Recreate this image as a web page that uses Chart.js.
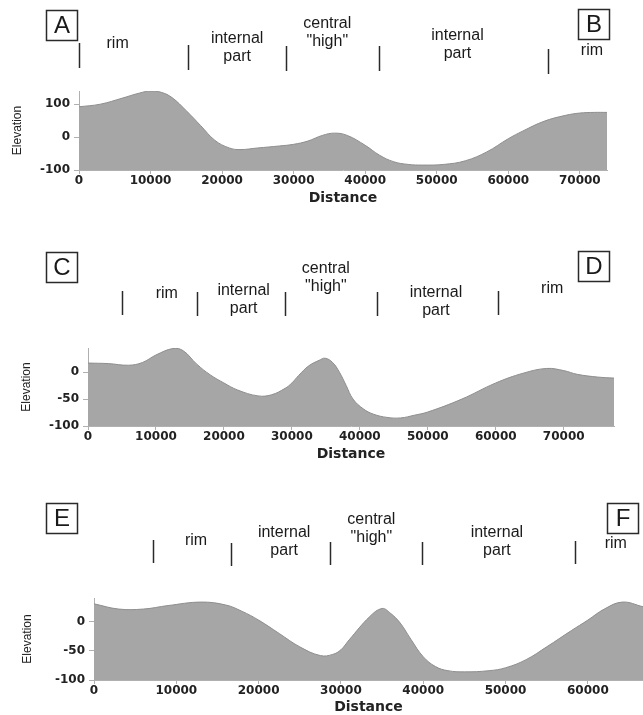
<!DOCTYPE html>
<html>
<head>
<meta charset="utf-8">
<script src="https://cdn.jsdelivr.net/npm/chart.js@4.4.1/dist/chart.umd.min.js"></script>
<style>
  html, body { margin: 0; padding: 0; background: #fff; overflow: hidden; }
  #wrap { position: relative; width: 643px; height: 715px; }
  canvas { position: absolute; left: 0; top: 0; }
</style>
</head>
<body>
<div id="wrap">
  <canvas id="chartA" width="643" height="715"></canvas>
  <canvas id="chartC" width="643" height="715"></canvas>
  <canvas id="chartE" width="643" height="715"></canvas>
</div>
<script>
// profile A-B
const distA = [0, 3000, 6000, 8500, 10000, 11500, 13000, 15000, 17000, 19000, 21000, 22500, 25000, 28000, 30000, 32000, 34000, 35700, 37500, 40000, 42000, 44000, 46000, 48000, 51000, 54000, 57000, 60000, 62000, 65000, 68000, 70000, 72000, 73800];
const elevA = [92, 100, 118, 134, 140, 136, 120, 80, 35, -10, -33, -38, -33, -27, -22, -12, 5, 12, 5, -25, -55, -75, -83, -85, -83, -72, -45, -5, 18, 48, 66, 73, 75, 75];

// profile C-D
const distC = [0, 3000, 6000, 8000, 10000, 12500, 14000, 16000, 18000, 20000, 22000, 25000, 27000, 29000, 30000, 31000, 32500, 34000, 34900, 36000, 37000, 38000, 39000, 40500, 42000, 44000, 46000, 48000, 50000, 55000, 60000, 64000, 67500, 70000, 72000, 75000, 77400];
const elevC = [17, 16, 13, 18, 32, 44, 40, 15, -5, -20, -33, -44, -42, -30, -20, -6, 12, 22, 26, 18, 0, -25, -50, -68, -78, -84, -85, -80, -74, -50, -20, -2, 7, 3, -4, -9, -11];

// profile E-F
const distE = [0, 3000, 6000, 9000, 13000, 16000, 18000, 20000, 22500, 25000, 27500, 29000, 30000, 31000, 33500, 35000, 36000, 37200, 38500, 40000, 41500, 43000, 45000, 48000, 50000, 52500, 55000, 58000, 60000, 62000, 64200, 66700];
const elevE = [31, 22, 22, 28, 34, 29, 18, 3, -20, -43, -58, -56, -48, -31, 9, 23, 15, -2, -30, -60, -77, -84, -86, -84, -79, -65, -43, -15, 3, 22, 34, 26];

// tick labels
const xTicksA = [0, 10000, 20000, 30000, 40000, 50000, 60000, 70000];
const xTicksC = [0, 10000, 20000, 30000, 40000, 50000, 60000, 70000];
const xTicksE = [0, 10000, 20000, 30000, 40000, 50000, 60000];
const yTicksA = [-100, 0, 100];
const yTicksC = [-100, -50, 0];
const yTicksE = [-100, -50, 0];

// zone boundaries and zone names (distance)
const zoneNames = ['rim', 'internal\npart', 'central\n"high"', 'internal\npart', 'rim'];
const zoneMarksA = [0, 15200, 29000, 41900, 65500];
const zoneMarksC = [5000, 16000, 29000, 42500, 60300];
const zoneMarksE = [7200, 16600, 28700, 39900, 58400];
const zoneAtA = [5400, 22100, 34700, 52900, 71700];
const zoneAtC = [11600, 22900, 35000, 51200, 68300];
const zoneAtE = [12400, 23100, 33700, 48950, 63400];

// page layout of each panel
const layoutA = {
  area: { left: 79, right: 607, top: 91, bottom: 170 }, yMin: -100, yMax: 140, xMax: 73800,
  yTitleLeft: 10, xTitleBottom: 205.5,
  markTop: [43, 45, 46, 46, 49], markLen: 25,
  labelY: [48, 43, 28, 40, 55],
  boxes: [{ text: 'A', x: 46, y: 10 }, { text: 'B', x: 578, y: 9 }]
};
const layoutC = {
  area: { left: 88, right: 614, top: 348, bottom: 426 }, yMin: -100, yMax: 45, xMax: 77400,
  yTitleLeft: 19, xTitleBottom: 461.5,
  markTop: [291, 292, 292, 292, 291], markLen: 24,
  labelY: [298, 295, 273, 297, 293],
  boxes: [{ text: 'C', x: 46, y: 252 }, { text: 'D', x: 578, y: 251 }]
};
const layoutE = {
  area: { left: 94, right: 643, top: 598, bottom: 680 }, yMin: -100, yMax: 41, xMax: 66700,
  yTitleLeft: 20, xTitleBottom: 714.5,
  markTop: [540, 543, 542, 542, 541], markLen: 23,
  labelY: [545, 537, 524, 537, 548],
  boxes: [{ text: 'E', x: 46, y: 503 }, { text: 'F', x: 607, y: 503 }]
};

Chart.defaults.font.family = '"DejaVu Sans", sans-serif';
Chart.defaults.color = '#222';

const zonePlugin = {
  id: 'zones',
  afterDraw(chart, args, opts) {
    const ctx = chart.ctx;
    const x = chart.scales.x;
    const L = opts.layout;
    ctx.save();
    ctx.strokeStyle = '#2a2a2a';
    ctx.fillStyle = '#1a1a1a';
    ctx.lineWidth = 1.5;
    opts.marks.forEach((d, i) => {
      const px = Math.round(x.getPixelForValue(d)) + 0.5;
      ctx.beginPath();
      ctx.moveTo(px, L.markTop[i]);
      ctx.lineTo(px, L.markTop[i] + L.markLen);
      ctx.stroke();
    });
    ctx.font = '16px "Liberation Sans", Arial, sans-serif';
    ctx.textAlign = 'center';
    ctx.textBaseline = 'alphabetic';
    opts.names.forEach((name, i) => {
      const px = x.getPixelForValue(opts.at[i]);
      name.split('\n').forEach((line, j) => {
        ctx.fillText(line, px, L.labelY[i] + j * 18);
      });
    });
    ctx.font = '24px "Liberation Sans", Arial, sans-serif';
    ctx.textBaseline = 'middle';
    L.boxes.forEach(b => {
      ctx.strokeRect(b.x + 0.5, b.y + 0.5, 31, 30);
      ctx.fillText(b.text, b.x + 16, b.y + 16.5);
    });
    ctx.restore();
  }
};

function makeProfile(id, dist, elev, xTicks, yTicks, marks, at, L) {
  const tickFont = { family: '"DejaVu Sans", sans-serif', size: 12, weight: 'bold' };
  return new Chart(document.getElementById(id), {
    type: 'line',
    data: {
      datasets: [{
        data: dist.map((d, i) => ({ x: d, y: elev[i] })),
        backgroundColor: '#a6a6a6',
        borderColor: '#8e8e8e',
        borderWidth: 1,
        fill: 'start',
        pointRadius: 0,
        tension: 0.4
      }]
    },
    options: {
      responsive: false,
      animation: false,
      layout: {
        padding: { left: L.yTitleLeft, top: L.area.top, right: 643 - L.area.right, bottom: 715 - L.xTitleBottom }
      },
      plugins: {
        legend: { display: false },
        tooltip: { enabled: false },
        zones: { layout: L, marks: marks, names: zoneNames, at: at }
      },
      scales: {
        x: {
          type: 'linear', min: 0, max: L.xMax,
          afterFit: s => { s.height = L.xTitleBottom - L.area.bottom; },
          afterBuildTicks: s => { s.ticks = xTicks.map(v => ({ value: v })); },
          ticks: { callback: v => String(v), font: tickFont, padding: 0, maxRotation: 0, autoSkip: false },
          grid: { drawOnChartArea: false, tickLength: 4, color: '#b0b0b0' },
          border: { color: '#b0b0b0' },
          title: { display: true, text: 'Distance', padding: 0,
            font: { family: '"DejaVu Sans", sans-serif', size: 14, weight: 'bold', lineHeight: 1 } }
        },
        y: {
          min: L.yMin, max: L.yMax,
          afterFit: s => { s.width = L.area.left - L.yTitleLeft; },
          afterBuildTicks: s => { s.ticks = yTicks.map(v => ({ value: v })); },
          ticks: { font: tickFont, padding: 4 },
          grid: { drawOnChartArea: false, tickLength: 5, color: '#b0b0b0' },
          border: { color: '#b0b0b0' },
          title: { display: true, text: 'Elevation', padding: 0,
            font: { family: '"Liberation Sans Narrow", "Liberation Sans", sans-serif', size: 12, lineHeight: 1.2 } }
        }
      }
    },
    plugins: [zonePlugin]
  });
}

makeProfile('chartA', distA, elevA, xTicksA, yTicksA, zoneMarksA, zoneAtA, layoutA);
makeProfile('chartC', distC, elevC, xTicksC, yTicksC, zoneMarksC, zoneAtC, layoutC);
makeProfile('chartE', distE, elevE, xTicksE, yTicksE, zoneMarksE, zoneAtE, layoutE);
</script>
</body>
</html>
